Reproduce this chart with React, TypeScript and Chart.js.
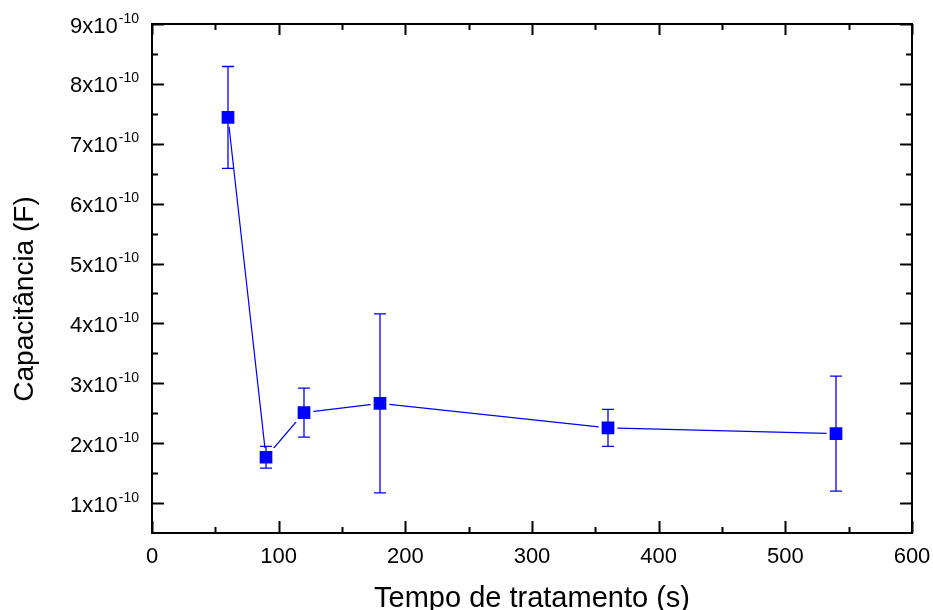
import React, { useEffect, useRef } from "react";
import { Chart, registerables } from "chart.js";

Chart.register(...registerables);

// Data
const treatmentTimes = [60, 90, 120, 180, 360, 540];
const capacitance = [7.44e-10, 1.765e-10, 2.51e-10, 2.665e-10, 2.255e-10, 2.16e-10];
const capacitanceError = [0.85e-10, 0.18e-10, 0.41e-10, 1.495e-10, 0.31e-10, 0.96e-10];
const xTickValues = [0, 100, 200, 300, 400, 500, 600];
const yTickMantissas = [1, 2, 3, 4, 5, 6, 7, 8, 9];
const yExponent = -10;
const xTitle = "Tempo de tratamento (s)";
const yTitle = "Capacitância (F)";

const BLUE = "#0000ff";
const FONT = "'Liberation Sans', Arial, Helvetica, sans-serif";

const decorPlugin = {
  id: "decor",
  afterDatasetsDraw(chart: any) {
    const ctx = chart.ctx;
    const xs = chart.scales.x;
    const ys = chart.scales.y;
    ctx.save();
    ctx.strokeStyle = BLUE;
    ctx.lineWidth = 1.3;
    treatmentTimes.forEach((t, i) => {
      const px = xs.getPixelForValue(t);
      const top = ys.getPixelForValue(capacitance[i] + capacitanceError[i]);
      const bot = ys.getPixelForValue(capacitance[i] - capacitanceError[i]);
      ctx.beginPath();
      ctx.moveTo(px, top);
      ctx.lineTo(px, bot);
      ctx.moveTo(px - 6, top);
      ctx.lineTo(px + 6, top);
      ctx.moveTo(px - 6, bot);
      ctx.lineTo(px + 6, bot);
      ctx.stroke();
    });
    ctx.restore();
  },
  afterDraw(chart: any) {
    const ctx = chart.ctx;
    const xs = chart.scales.x;
    const ys = chart.scales.y;
    const { left, right, top, bottom } = chart.chartArea;
    ctx.save();
    ctx.strokeStyle = "#000";
    ctx.lineWidth = 2;
    ctx.strokeRect(left, top, right - left, bottom - top);

    // x ticks (major + minor), bottom and top, pointing inward
    ctx.beginPath();
    for (let i = 0; i < xTickValues.length; i++) {
      const v = xTickValues[i];
      const px = Math.round(xs.getPixelForValue(v)) + 0.5;
      ctx.moveTo(px, bottom);
      ctx.lineTo(px, bottom - 12);
      ctx.moveTo(px, top);
      ctx.lineTo(px, top + 11);
      if (i < xTickValues.length - 1) {
        const mv = (v + xTickValues[i + 1]) / 2;
        const mx = Math.round(xs.getPixelForValue(mv)) + 0.5;
        ctx.moveTo(mx, bottom);
        ctx.lineTo(mx, bottom - 6);
        ctx.moveTo(mx, top);
        ctx.lineTo(mx, top + 6);
      }
    }
    // y ticks
    const scale = Math.pow(10, yExponent);
    for (let i = 0; i < yTickMantissas.length; i++) {
      const v = yTickMantissas[i] * scale;
      const py = Math.round(ys.getPixelForValue(v)) + 0.5;
      ctx.moveTo(left, py);
      ctx.lineTo(left + 12, py);
      ctx.moveTo(right, py);
      ctx.lineTo(right - 12, py);
      const mv = (yTickMantissas[i] - 0.5) * scale;
      const my = Math.round(ys.getPixelForValue(mv)) + 0.5;
      if (my < bottom - 2) {
        ctx.moveTo(left, my);
        ctx.lineTo(left + 6, my);
        ctx.moveTo(right, my);
        ctx.lineTo(right - 6, my);
      }
    }
    ctx.stroke();

    // x tick labels
    ctx.fillStyle = "#000";
    ctx.font = `22px ${FONT}`;
    ctx.textAlign = "center";
    ctx.textBaseline = "alphabetic";
    xTickValues.forEach((v) => {
      ctx.fillText(String(v), xs.getPixelForValue(v), bottom + 30);
    });

    // y tick labels with superscript exponent
    yTickMantissas.forEach((m) => {
      const py = ys.getPixelForValue(m * scale);
      const sup = String(yExponent);
      ctx.font = `14px ${FONT}`;
      const supW = ctx.measureText(sup).width;
      ctx.textAlign = "right";
      ctx.fillText(sup, left - 13, py - 1.5);
      ctx.font = `22px ${FONT}`;
      ctx.fillText(`${m}x10`, left - 13 - supW - 1, py + 8.5);
    });

    // axis titles
    ctx.font = `29px ${FONT}`;
    ctx.textAlign = "center";
    ctx.fillText(xTitle, (left + right) / 2, 607);

    ctx.save();
    ctx.translate(33, 299);
    ctx.rotate(-Math.PI / 2);
    ctx.font = `28px ${FONT}`;
    ctx.textAlign = "center";
    ctx.fillText(yTitle, 0, 0);
    ctx.restore();

    ctx.restore();
  },
};

export default function App() {
  const canvasRef = useRef<HTMLCanvasElement | null>(null);

  useEffect(() => {
    const canvas = canvasRef.current;
    if (!canvas) return;
    const chart = new Chart(canvas, {
      type: "line",
      data: {
        datasets: [
          {
            data: treatmentTimes.map((t, i) => ({ x: t, y: capacitance[i] })),
            borderColor: BLUE,
            backgroundColor: BLUE,
            borderWidth: 1.2,
            pointStyle: "rect",
            pointRadius: 11.1,
            pointBackgroundColor: BLUE,
            pointBorderColor: "#ffffff",
            pointBorderWidth: 3,
            pointHoverRadius: 11.1,
            tension: 0,
          },
        ],
      },
      options: {
        responsive: false,
        animation: false,
        events: [],
        layout: { padding: { top: 24, right: 21, left: 0, bottom: 0 } },
        plugins: {
          legend: { display: false },
          tooltip: { enabled: false },
        },
        scales: {
          x: {
            type: "linear",
            min: 0,
            max: 600,
            grid: { display: false },
            border: { display: false },
            ticks: { display: false },
            afterFit: (s: any) => {
              s.height = 77;
            },
          },
          y: {
            type: "linear",
            min: 0.5e-10,
            max: 9e-10,
            grid: { display: false },
            border: { display: false },
            ticks: { display: false },
            afterFit: (s: any) => {
              s.width = 152;
            },
          },
        },
      },
      plugins: [decorPlugin],
    });
    return () => chart.destroy();
  }, []);

  return (
    <div style={{ position: "fixed", left: 0, top: 0, width: 933, height: 610, background: "#fff" }}>
      <canvas ref={canvasRef} width={933} height={610} />
    </div>
  );
}
